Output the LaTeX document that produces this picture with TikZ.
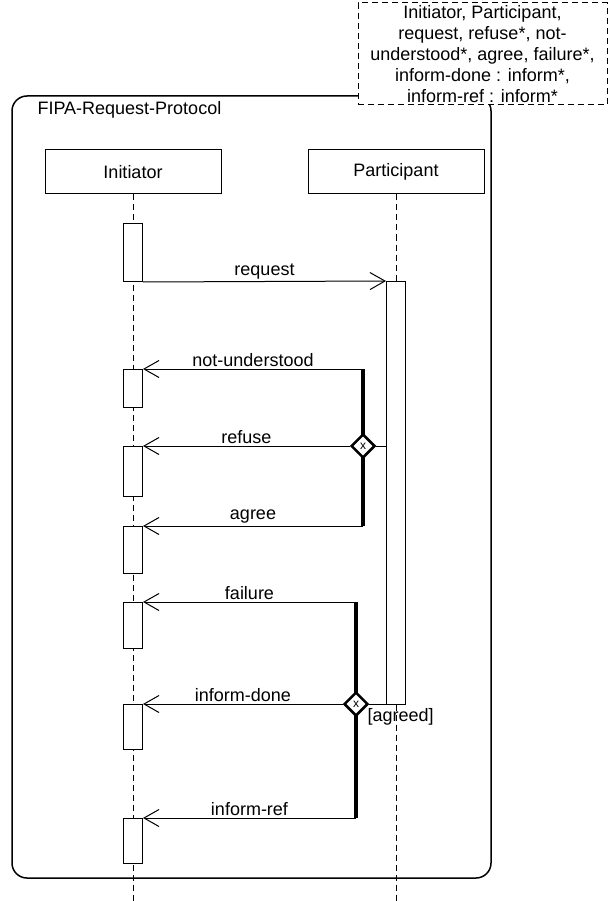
\documentclass[tikz,border=0pt]{standalone}
\usepackage{fontspec}
\setmainfont{Liberation Sans}
\usetikzlibrary{arrows.meta,positioning,shapes.geometric}

\begin{document}
\begin{tikzpicture}[x=1pt,y=-1pt,node distance=263pt,on grid,
   font=\fontsize{18}{20}\selectfont,
   lifehead/.style={draw,line width=1pt,minimum width=176pt,minimum height=44pt,inner sep=0pt},
   lifeline/.style={dash pattern=on 6pt off 4pt,line width=1pt},
   act/.style={draw,fill=white,line width=1pt,minimum width=19pt,inner sep=0pt,anchor=north},
   msg/.style={-{Straight Barb[length=15pt,width=17pt,line width=1pt]},line width=1pt},
   lbl/.style={above,inner sep=2pt},
   bar/.style={line width=4pt},
   choice/.style={diamond,draw,fill=white,line width=2.5pt,minimum width=24pt,minimum height=24pt,
                  inner sep=0pt,font=\fontsize{12}{12}\selectfont}]
   \useasboundingbox (0,0) rectangle (608,901);
   \draw[line width=1.5pt,rounded corners=15pt] (12,96) rectangle (491,878);
   \node[anchor=west] (proto) at (34,110) {FIPA-Request-Protocol};
   \node[draw,dash pattern=on 6pt off 4pt,line width=1pt,fill=white,align=center,
         font=\fontsize{18}{21}\selectfont,
         minimum width=249pt,minimum height=102pt,inner sep=0pt] (params) at (482.5,54)
      {Initiator, Participant,\\ request, refuse*, not-\\ understood*, agree, failure*,\\
       inform-done : inform*,\\ inform-ref : inform*};

   \node[lifehead] (init) at (133,172) {Initiator};
   \node[lifehead] (part) [right=of init] {Participant};
   \coordinate (init end) at (133,901);
   \coordinate (part end) at (396,901);
   \draw[lifeline] (init) -- (init end);
   \draw[lifeline] (part) -- (part end);

   % activations
   \node[act,minimum height=58pt] (a_1) at (133,223) {};
   \node[act,minimum height=38pt] (a_2) at (133,369) {};
   \node[act,minimum height=50pt] (a_3) at (133,446) {};
   \node[act,minimum height=47pt] (a_4) at (133,526) {};
   \node[act,minimum height=46pt] (a_5) at (133,602) {};
   \node[act,minimum height=45pt] (a_6) at (133,704) {};
   \node[act,minimum height=45pt] (a_7) at (133,818) {};
   \node[act,minimum height=423pt] (p_1) at (396,281) {};

   \coordinate (b_1) at (363,369);
   \coordinate (b_2) at (363,526);
   \coordinate (b_3) at (356,602);
   \coordinate (b_4) at (356,818);
   \draw[bar] (b_1) -- (b_2);
   \draw[bar] (b_3) -- (b_4);
   \node[choice] (x_1) at (363,446) {x};
   \node[choice] (x_2) at (356,704) {x};
   \node[anchor=west] (guard) at (364,717) {[agreed]};

   \path[msg]
   (a_1.south east) edge node[lbl] {request} (p_1.north west)
   (b_1) edge node[lbl] {not-understood} (a_2.north east)
   (x_1.west) edge node[lbl] {refuse} (a_3.north east)
   (b_2) edge node[lbl] {agree} (a_4.north east)
   (b_3) edge node[lbl] {failure} (a_5.north east)
   (x_2.west) edge node[lbl] {inform-done} (a_6.north east)
   (b_4) edge node[lbl] {inform-ref} (a_7.north east);
   \draw[line width=1pt] (x_1.east) -- (x_1 -| p_1.west);
   \draw[line width=1pt] (x_2.east) -- (x_2 -| p_1.west);
\end{tikzpicture}
\end{document}
